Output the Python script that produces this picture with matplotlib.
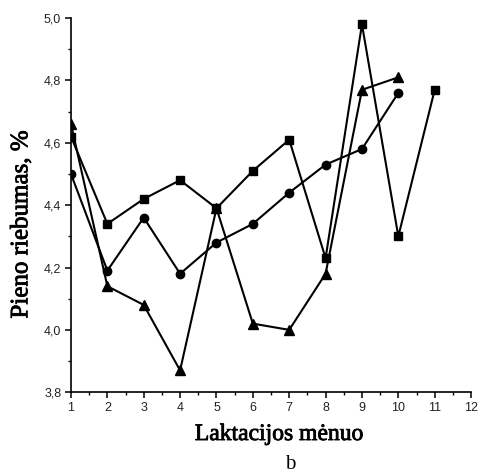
import matplotlib
matplotlib.use("Agg")
import matplotlib.pyplot as plt
import matplotlib.patheffects as pe
from matplotlib.ticker import MultipleLocator

plt.rcParams["mathtext.fontset"] = "custom"
plt.rcParams["mathtext.rm"] = "Liberation Serif"
plt.rcParams["mathtext.it"] = "Liberation Serif:italic"

months = list(range(1, 12))

# riebumas, % -- trys serijos
squares = [4.62, 4.34, 4.42, 4.48, 4.39, 4.51, 4.61, 4.23, 4.98, 4.30, 4.77]
circles = [4.50, 4.19, 4.36, 4.18, 4.28, 4.34, 4.44, 4.53, 4.58, 4.76]
triangles = [4.66, 4.14, 4.08, 3.87, 4.39, 4.02, 4.00, 4.18, 4.77, 4.81]

fig = plt.figure(figsize=(4.78, 4.76), dpi=100)
ax = fig.add_axes([0.1485, 0.176, 0.837, 0.786])

ax.plot(months, squares, color="black", lw=1.5, marker="s", ms=5.5)
ax.plot(months[:len(circles)], circles, color="black", lw=1.5, marker="o", ms=6)
ax.plot(months[:len(triangles)], triangles, color="black", lw=1.5, marker="^", ms=6.5)

ax.set_xlim(1, 12)
ax.set_ylim(3.8, 5.0)
ax.xaxis.set_major_locator(MultipleLocator(1))
ax.xaxis.set_minor_locator(MultipleLocator(0.5))
ax.yaxis.set_major_locator(MultipleLocator(0.2))
ax.yaxis.set_minor_locator(MultipleLocator(0.1))
ax.yaxis.set_major_formatter(lambda v, p: f"{v:.1f}".replace(".", ","))

for s in ["top", "right"]:
    ax.spines[s].set_visible(False)
for s in ["left", "bottom"]:
    ax.spines[s].set_linewidth(1.2)

ax.tick_params(which="major", direction="out", length=4, width=1.1,
               labelsize=9, pad=3, labelcolor="#222222")
ax.tick_params(which="minor", direction="out", length=2.5, width=1.0)
for lab in ax.get_xticklabels() + ax.get_yticklabels():
    lab.set_family("Liberation Sans")

heavy = [pe.withStroke(linewidth=0.6, foreground="black")]
ax.set_xlabel("Laktacijos mėnuo", family="Liberation Serif", fontsize=17,
              path_effects=heavy)
ax.xaxis.set_label_coords(0.52, -0.085)
ax.set_ylabel("Pieno riebumas, $\\mathit{\\%}$", family="Liberation Serif",
              fontsize=18, path_effects=heavy)
ax.yaxis.set_label_coords(-0.095, 0.45)
fig.text(0.607, 0.014, "b", family="Liberation Serif", fontsize=15,
         ha="center")

fig.savefig("out.png", dpi=100)
